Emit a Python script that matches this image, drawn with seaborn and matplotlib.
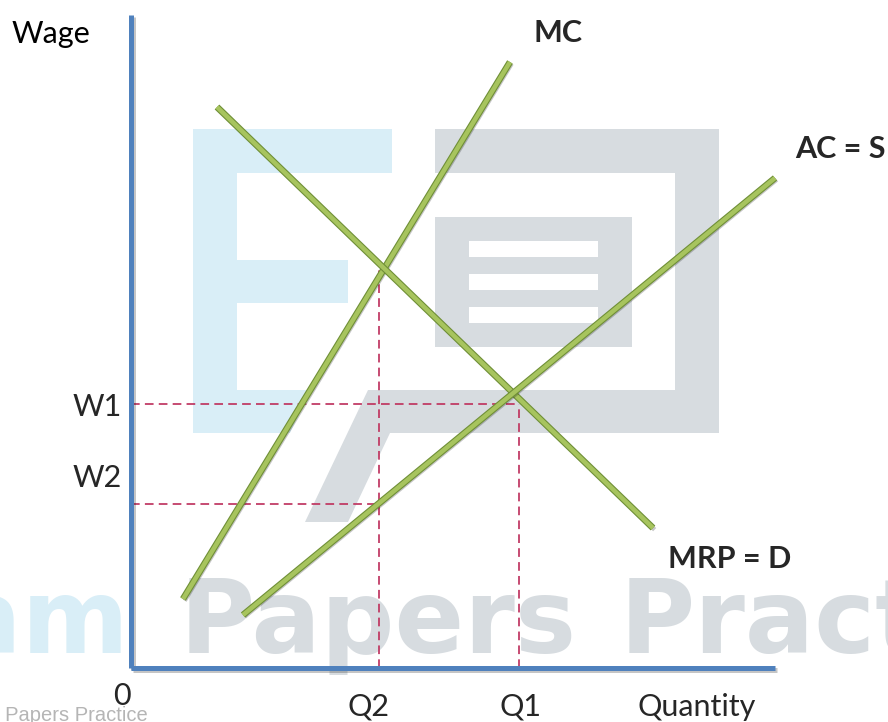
import matplotlib
matplotlib.use("Agg")
import matplotlib.pyplot as plt
import matplotlib.patheffects as pe
from matplotlib.patches import Rectangle, Polygon
import seaborn as sns
import pandas as pd

# ---------------- data (quantity / wage units, origin at axes corner) ----------------
MC_Q = [5.2, 37.9]
MC_W = [6.9, 60.6]
MRP_Q = [8.6, 52.2]
MRP_W = [56.1, 14.0]
AC_Q = [11.2, 64.4]
AC_W = [5.3, 49.0]
Q2, Q1 = 24.8, 38.8
W1, W2 = 26.4, 16.4
Q2_TOP = 39.8          # MC = MRP wage at Q2
AXIS_X_END = 64.4
AXIS_Y_END = 65.3

CURVE_LABELS = ["MC", "MRP = D", "AC = S"]
TICK_LABELS_Y = ["W1", "W2"]
TICK_LABELS_X = ["Q2", "Q1"]

sns.set_theme(style="white")
plt.rcParams['font.family'] = ['Lato', 'DejaVu Sans']

fig = plt.figure(figsize=(8.88, 7.22), dpi=100)

# ---------------- background watermark (pixel coordinates) ----------------
bg = fig.add_axes([0, 0, 1, 1])
bg.set_xlim(0, 888)
bg.set_ylim(722, 0)
bg.axis('off')
LB = '#d9eef7'
GR = '#d7dce0'
for (x, y, w, h) in [(193, 129, 44, 304), (193, 129, 199, 44), (193, 260, 155, 43)]:
    bg.add_patch(Rectangle((x, y), w, h, color=LB, lw=0))
bg.add_patch(Polygon([(193, 390), (310, 390), (290, 433), (193, 433)], color=LB, lw=0))
for (x, y, w, h) in [(435, 129, 284, 44), (675, 129, 44, 304), (435, 217, 197, 130)]:
    bg.add_patch(Rectangle((x, y), w, h, color=GR, lw=0))
bg.add_patch(Polygon([(368, 390), (719, 390), (719, 433), (390, 433), (348, 522), (305, 522)],
                     color=GR, lw=0))
for y in [241, 274, 307]:
    bg.add_patch(Rectangle((469, y), 129, 16, color='white', lw=0))
WM = dict(va='baseline', fontsize=74, fontweight='bold', family='DejaVu Sans')
bg.text(129, 653, "Exam", ha='right', color=LB, **WM)
bg.text(180, 653, "Papers", ha='left', color=GR, **WM)
bg.text(620, 653, "Practice", ha='left', color=GR, **WM)
bg.text(148, 721, "Exam Papers Practice", ha='right', va='baseline', fontsize=14.5,
        family='Liberation Sans', color='#b5b5b5')

# ---------------- main diagram ----------------
ax = fig.add_axes([0, 0, 1, 1])
ax.patch.set_alpha(0)
ax.set_xlim(-13.1, 75.7)
ax.set_ylim(-5.4, 66.8)
ax.axis('off')

# dashed guide lines
DASH = dict(color='#bf3560', lw=1.25, ls=(0, (5.0, 3.0)), zorder=2)
ax.plot([0, Q1], [W1, W1], **DASH)
ax.plot([Q1, Q1], [0, W1], **DASH)
ax.plot([0, Q2], [W2, W2], **DASH)
ax.plot([Q2, Q2], [0, Q2_TOP], **DASH)

# curves
green_fx = [pe.SimpleLineShadow(offset=(1.2, -1.2), shadow_color='k', alpha=0.25),
            pe.Stroke(linewidth=4.8, foreground='#6f8f37'),
            pe.Normal()]
curves = pd.DataFrame({
    'q': MC_Q + MRP_Q + AC_Q,
    'w': MC_W + MRP_W + AC_W,
    'curve': [c for c in CURVE_LABELS for _ in range(2)],
})
for name, g in curves.groupby('curve', sort=False):
    sns.lineplot(data=g, x='q', y='w', ax=ax, sort=False, color='#a7c45e', lw=3.2,
                 solid_capstyle='butt', zorder=4, path_effects=green_fx)

# axes
blue_fx = [pe.SimpleLineShadow(offset=(1.2, -1.2), shadow_color='k', alpha=0.25), pe.Normal()]
ax.plot([0, 0], [0, AXIS_Y_END], color='#4f81bd', lw=3.6, solid_capstyle='butt',
        zorder=5, path_effects=blue_fx)
ax.plot([0, AXIS_X_END], [0, 0], color='#4f81bd', lw=3.6, solid_capstyle='butt',
        zorder=5, path_effects=blue_fx)

# labels
FS = 22
ax.text(-11.9, 62.5, "Wage", fontsize=FS, ha='left', va='baseline', color='black')
ax.text(40.2, 62.6, CURVE_LABELS[0], fontsize=FS, fontweight='bold', ha='left', va='baseline')
ax.text(53.7, 10.0, CURVE_LABELS[1], fontsize=FS, fontweight='bold', ha='left', va='baseline')
ax.text(66.4, 51.0, CURVE_LABELS[2], fontsize=FS, fontweight='bold', ha='left', va='baseline')
ax.text(-0.9, W1 - 1.2, TICK_LABELS_Y[0], fontsize=FS, ha='right', va='baseline')
ax.text(-0.9, W2 + 1.7, TICK_LABELS_Y[1], fontsize=FS, ha='right', va='baseline')
ax.text(Q2 - 1.1, -4.8, TICK_LABELS_X[0], fontsize=FS, ha='center', va='baseline')
ax.text(Q1 + 0.1, -4.8, TICK_LABELS_X[1], fontsize=FS, ha='center', va='baseline')
ax.text(-0.9, -3.7, "0", fontsize=FS, ha='center', va='baseline')
ax.text(56.6, -4.8, "Quantity", fontsize=FS, ha='center', va='baseline')

fig.savefig("out.png", dpi=100)
